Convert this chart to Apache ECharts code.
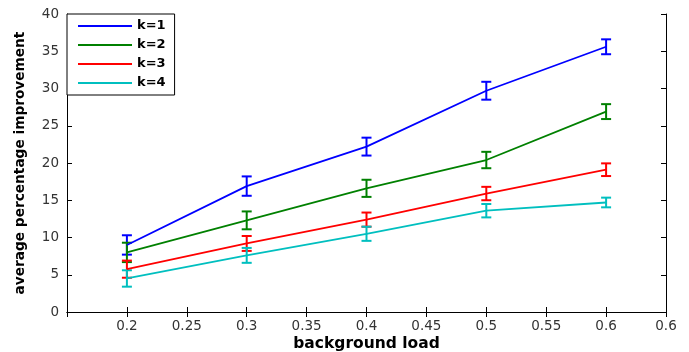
<!DOCTYPE html>
<html>
<head>
<meta charset="utf-8">
<script src="https://cdn.jsdelivr.net/npm/echarts@6/dist/echarts.min.js"></script>
<style>
  html, body { margin: 0; padding: 0; background: #fff; }
  #chart { width: 689px; height: 352px; }
</style>
</head>
<body>
<div id="chart"></div>
<script>
// background load values
const loads = [0.2, 0.3, 0.4, 0.5, 0.6];
const seriesNames = ["k=1", "k=2", "k=3", "k=4"];
const colores = ["#0000ff", "#008000", "#ff0000", "#00bfbf"];

// mean improvement per k
const k1 = [9.0, 16.9, 22.2, 29.7, 35.6];
const k2 = [8.0, 12.3, 16.6, 20.4, 26.9];
const k3 = [5.75, 9.2, 12.4, 15.9, 19.1];
const k4 = [4.5, 7.6, 10.5, 13.6, 14.7];

// error bar half-widths
const e1 = [1.3, 1.3, 1.2, 1.2, 1.0];
const e2 = [1.3, 1.2, 1.15, 1.1, 1.0];
const e3 = [1.15, 1.0, 0.95, 0.9, 0.85];
const e4 = [1.1, 1.0, 0.95, 0.9, 0.65];

const medias = [k1, k2, k3, k4];
const errores = [e1, e2, e3, e4];

const chart = echarts.init(document.getElementById("chart"));

const fontTicks = { fontFamily: "DejaVu Sans, sans-serif", fontSize: 13.5, color: "#333" };

function errorSeries(idx) {
  const data = loads.map((x, i) => [x, medias[idx][i] - errores[idx][i], medias[idx][i] + errores[idx][i]]);
  return {
    type: "custom",
    name: "err" + idx,
    z: 3,
    renderItem: (params, api) => {
      const x = api.value(0);
      const lo = api.coord([x, api.value(1)]);
      const hi = api.coord([x, api.value(2)]);
      const w = 5;
      const st = { stroke: colores[idx], lineWidth: 2 };
      return {
        type: "group",
        children: [
          { type: "line", shape: { x1: lo[0], y1: lo[1], x2: hi[0], y2: hi[1] }, style: st },
          { type: "line", shape: { x1: lo[0] - w, y1: lo[1], x2: lo[0] + w, y2: lo[1] }, style: st },
          { type: "line", shape: { x1: hi[0] - w, y1: hi[1], x2: hi[0] + w, y2: hi[1] }, style: st }
        ]
      };
    },
    encode: { x: 0, y: [1, 2] },
    data: data
  };
}

const lineSeries = seriesNames.map((n, idx) => ({
  type: "line",
  name: n,
  symbol: "none",
  z: 4,
  lineStyle: { color: colores[idx], width: 1.8 },
  itemStyle: { color: colores[idx] },
  data: loads.map((x, i) => [x, medias[idx][i]])
}));

const tickFmt = (v) => {
  if (v < 0.17) return "";
  const r = Math.round(v * 100) / 100;
  if (r > 0.62) return "0.6";
  return String(r);
};

const option = {
  animation: false,
  grid: { left: 67, right: 23, top: 14, bottom: 40, outerBoundsMode: "none", containLabel: false },
  legend: {
    left: 67,
    top: 14,
    orient: "vertical",
    data: seriesNames.map((n) => ({ name: n, icon: "rect" })),
    backgroundColor: "#fff",
    borderColor: "#000",
    borderWidth: 1,
    borderRadius: 0,
    padding: [5, 9, 5, 11],
    itemWidth: 54,
    itemHeight: 2,
    itemGap: 5,
    textStyle: { fontFamily: "DejaVu Sans, sans-serif", fontSize: 13, fontWeight: "bold", color: "#000", lineHeight: 14 }
  },
  xAxis: [
    {
      type: "value",
      min: 0.15,
      max: 0.65,
      interval: 0.05,
      name: "background load",
      nameLocation: "middle",
      nameGap: 24,
      nameMoveOverlap: false,
      nameTextStyle: { fontFamily: "DejaVu Sans, sans-serif", fontSize: 15.5, fontWeight: "bold", color: "#000" },
      axisLine: { lineStyle: { color: "#000", width: 1 } },
      axisTick: { inside: true, length: 5, lineStyle: { color: "#000" } },
      axisLabel: Object.assign({ formatter: tickFmt, margin: 7 }, fontTicks),
      splitLine: { show: false }
    },
    {
      type: "value",
      position: "top",
      min: 0.15,
      max: 0.65,
      interval: 0.05,
      axisLine: { lineStyle: { color: "#000", width: 1 } },
      axisTick: { inside: true, length: 5, lineStyle: { color: "#000" } },
      axisLabel: { show: false },
      splitLine: { show: false }
    }
  ],
  yAxis: [
    {
      type: "value",
      min: 0,
      max: 40,
      interval: 5,
      name: "average percentage improvement",
      nameLocation: "middle",
      nameGap: 40,
      nameMoveOverlap: false,
      nameTextStyle: { fontFamily: "DejaVu Sans, sans-serif", fontSize: 13.7, fontWeight: "bold", color: "#000" },
      axisLine: { show: true, lineStyle: { color: "#000", width: 1 } },
      axisTick: { show: true, inside: true, length: 5, lineStyle: { color: "#000" } },
      axisLabel: Object.assign({ margin: 8 }, fontTicks),
      splitLine: { show: false }
    },
    {
      type: "value",
      position: "right",
      min: 0,
      max: 40,
      interval: 5,
      axisLine: { show: true, lineStyle: { color: "#000", width: 1 } },
      axisTick: { show: true, inside: true, length: 5, lineStyle: { color: "#000" } },
      axisLabel: { show: false },
      splitLine: { show: false }
    }
  ],
  series: lineSeries.concat([0, 1, 2, 3].map(errorSeries))
};

chart.setOption(option);
</script>
</body>
</html>
